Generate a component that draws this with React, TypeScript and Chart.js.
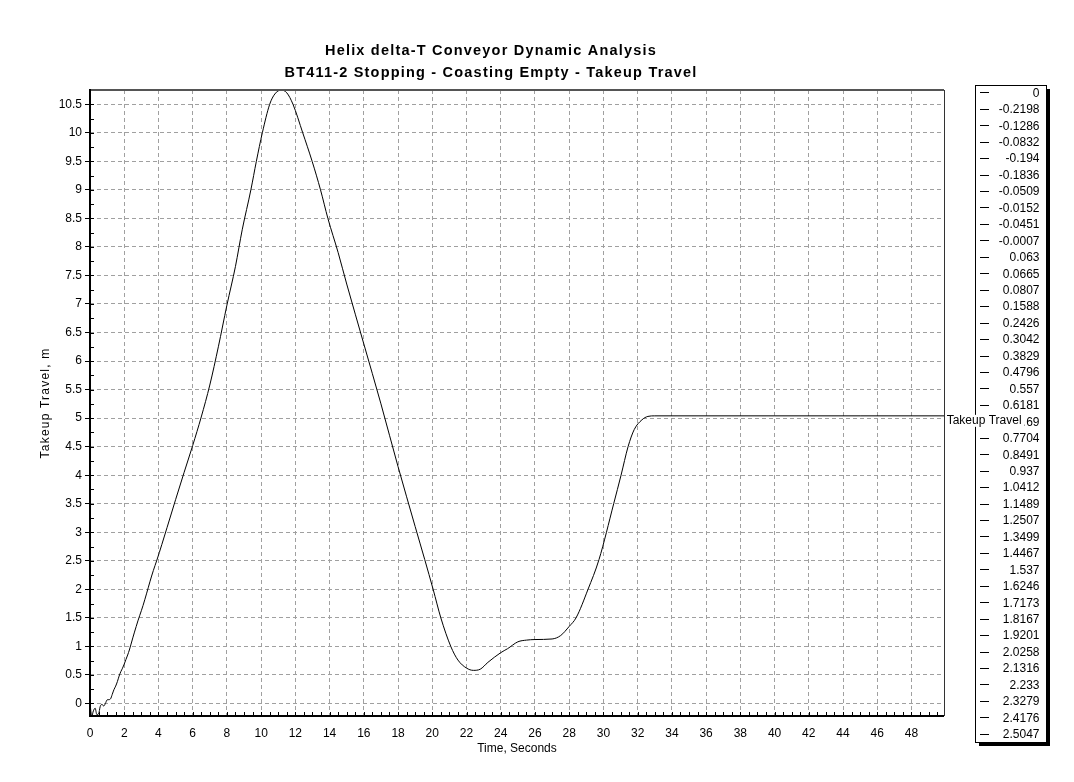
import React, { useEffect, useRef } from "react";
import { Chart, registerables } from "chart.js";

Chart.register(...registerables);

const FONT = "'Liberation Sans', Arial, Helvetica, sans-serif";

const chartTitle = [
  "Helix delta-T Conveyor Dynamic Analysis",
  "BT411-2 Stopping - Coasting Empty - Takeup Travel",
];
const seriesName = "Takeup Travel";
const xAxisTitle = "Time, Seconds";
const yAxisTitle = "Takeup Travel, m";

// time (s)
const timeSec = [
  0, 0.1, 0.2, 0.3, 0.4, 0.5, 0.6, 0.7, 0.8, 0.9,
  1.0, 1.1, 1.2, 1.3, 1.4, 1.5, 1.6, 1.7, 1.8, 1.9,
  2.0, 2.1, 2.2, 2.3, 2.4, 2.5, 2.6, 2.7, 2.8, 2.9,
  3.0, 3.1, 3.2, 3.3, 3.4, 3.5, 3.6, 3.7, 3.8, 3.9,
  4.5, 5.0, 5.5, 6.0, 6.5, 7.0, 7.5, 8.0, 8.5, 8.9,
  9.4, 9.72, 10.07, 10.5, 10.8, 11.17, 11.5, 11.86, 12.43, 12.98,
  13.47, 13.9, 14.5, 15.0, 16.0, 17.0, 18.0, 19.0, 19.56, 20.05,
  20.5, 21.08, 21.5, 22.0, 22.4, 22.8, 23.25, 24.0, 24.4, 25.0,
  25.5, 26.0, 27.0, 27.5, 28.0, 28.4, 29.1, 29.74, 30.6, 31.03,
  31.44, 31.8, 32.25, 32.6, 33.0, 36.0, 40.0, 45.0, 49.9,
];

// takeup travel (m)
const travelM = [
  0, -0.2198, -0.1286, -0.0832, -0.194, -0.1836, -0.0509, -0.0152, -0.0451, -0.0007,
  0.063, 0.0665, 0.0807, 0.1588, 0.2426, 0.3042, 0.3829, 0.4796, 0.557, 0.6181,
  0.69, 0.7704, 0.8491, 0.937, 1.0412, 1.1489, 1.2507, 1.3499, 1.4467, 1.537,
  1.6246, 1.7173, 1.8167, 1.9201, 2.0258, 2.1316, 2.233, 2.3279, 2.4176, 2.5047,
  3.08, 3.57, 4.05, 4.52, 5.02, 5.58, 6.25, 6.98, 7.66, 8.31,
  9.0, 9.5, 10.0, 10.5, 10.68, 10.75, 10.7, 10.5, 10.0, 9.5,
  9.0, 8.5, 7.9, 7.35, 6.3, 5.25, 4.15, 3.1, 2.52, 2.0,
  1.5, 1.0, 0.76, 0.62, 0.58, 0.6, 0.72, 0.89, 0.96, 1.08,
  1.11, 1.12, 1.13, 1.19, 1.35, 1.5, 2.0, 2.52, 3.5, 4.0,
  4.5, 4.8, 4.97, 5.03, 5.04, 5.04, 5.04, 5.04, 5.04,
];

const legendCount = 40;
const xMin = 0;
const xMax = 49.9;
const xStep = 2;
const xMinorStep = 0.5;
const yMin = -0.2198;
const yMax = 10.75;
const yStep = 0.5;
const yMinorStep = 0.25;

const legendValues = travelM.slice(0, legendCount).map((v) => String(Number(v.toFixed(4))));

const overlayPlugin = {
  id: "overlay",
  afterDraw(chart: any) {
    const { ctx, chartArea: a, scales } = chart;
    const xs = scales.x;
    const ys = scales.y;
    ctx.save();

    // minor ticks (inside)
    ctx.strokeStyle = "#000";
    ctx.lineWidth = 1;
    ctx.setLineDash([]);
    ctx.beginPath();
    for (let k = 0; xMin + k * xMinorStep <= xMax; k++) {
      const px = Math.round(xs.getPixelForValue(xMin + k * xMinorStep)) + 0.5;
      ctx.moveTo(px, a.bottom);
      ctx.lineTo(px, a.bottom - 4);
    }
    for (let k = 0; k * yMinorStep <= yMax; k++) {
      const py = Math.round(ys.getPixelForValue(k * yMinorStep)) + 0.5;
      ctx.moveTo(a.left, py);
      ctx.lineTo(a.left + 4, py);
    }
    ctx.stroke();

    // frame
    ctx.strokeStyle = "#555";
    ctx.lineWidth = 2;
    ctx.beginPath();
    ctx.moveTo(a.left, a.top);
    ctx.lineTo(a.right, a.top);
    ctx.stroke();
    ctx.lineWidth = 1;
    ctx.strokeStyle = "#333";
    ctx.beginPath();
    ctx.moveTo(a.right + 0.5, a.top);
    ctx.lineTo(a.right + 0.5, a.bottom);
    ctx.stroke();
    ctx.strokeStyle = "#000";
    ctx.lineWidth = 2;
    ctx.beginPath();
    ctx.moveTo(a.left, a.top - 1);
    ctx.lineTo(a.left, a.bottom + 1);
    ctx.moveTo(a.left - 1, a.bottom);
    ctx.lineTo(a.right, a.bottom);
    ctx.stroke();

    // title
    ctx.fillStyle = "#000";
    ctx.font = `bold 14.5px ${FONT}`;
    ctx.textAlign = "center";
    ctx.textBaseline = "alphabetic";
    ctx.save();
    (ctx as any).letterSpacing = "1.2px";
    ctx.fillText(chartTitle[0], 483, 47);
    ctx.fillText(chartTitle[1], 483, 69);
    ctx.restore();

    // axis titles
    ctx.font = `12px ${FONT}`;
    ctx.textAlign = "center";
    ctx.textBaseline = "middle";
    ctx.fillText(xAxisTitle, (a.left + a.right) / 2, 741);
    ctx.save();
    ctx.translate(38, (a.top + a.bottom) / 2);
    ctx.rotate(-Math.PI / 2);
    (ctx as any).letterSpacing = "1.2px";
    ctx.fillText(yAxisTitle, 0, 0);
    ctx.restore();

    // legend box
    const lx = 967, ly = 77, lw = 71, lh = 657;
    ctx.fillStyle = "#000";
    ctx.fillRect(lx + 4, ly + 4, lw, lh);
    ctx.fillStyle = "#fff";
    ctx.fillRect(lx, ly, lw, lh);
    ctx.strokeStyle = "#000";
    ctx.lineWidth = 1;
    ctx.strokeRect(lx + 0.5, ly + 0.5, lw, lh);
    ctx.font = `12px ${FONT}`;
    ctx.textAlign = "right";
    ctx.textBaseline = "middle";
    ctx.fillStyle = "#000";
    legendValues.forEach((txt, i) => {
      const cy = 85.3 + i * 16.45;
      const ry = Math.round(cy) - 0.5;
      ctx.beginPath();
      ctx.moveTo(972, ry);
      ctx.lineTo(981, ry);
      ctx.stroke();
      ctx.fillText(txt, 1031.5, cy);
    });

    // series label at line end
    const lastT = timeSec[timeSec.length - 1];
    const lastV = travelM[travelM.length - 1];
    const ex = xs.getPixelForValue(lastT);
    const ey = ys.getPixelForValue(lastV);
    ctx.font = `12px ${FONT}`;
    const w = ctx.measureText(seriesName).width;
    const tx = ex + 2.7;
    const ty = ey + 5;
    ctx.fillStyle = "#fff";
    ctx.fillRect(tx - 1, ty - 6, w + 4, 12);
    ctx.fillStyle = "#000";
    ctx.textAlign = "left";
    ctx.fillText(seriesName, tx, ty);

    ctx.restore();
  },
};

export default function App() {
  const ref = useRef<HTMLCanvasElement | null>(null);

  useEffect(() => {
    if (!ref.current) return;
    const points = timeSec.map((t, i) => ({ x: t, y: travelM[i] }));
    const tickFont = { family: FONT, size: 12 };
    const fmt = (v: any) => String(Number(Number(v).toFixed(2)));
    const chart = new Chart(ref.current, {
      type: "line",
      data: {
        datasets: [
          {
            label: seriesName,
            data: points,
            borderColor: "#000",
            borderWidth: 1,
            pointRadius: 0,
            fill: false,
            cubicInterpolationMode: "monotone",
          },
        ],
      },
      options: {
        responsive: false,
        animation: false,
        events: [],
        layout: { padding: { top: 82, right: 122, bottom: 0, left: 0 } },
        plugins: {
          legend: { display: false },
          title: { display: false },
          tooltip: { enabled: false },
        },
        scales: {
          x: {
            type: "linear",
            min: xMin,
            max: xMax,
            afterFit: (s: any) => {
              s.height = 58;
            },
            ticks: {
              stepSize: xStep,
              includeBounds: false,
              autoSkip: false,
              maxRotation: 0,
              font: tickFont,
              color: "#000",
              padding: 10,
              callback: fmt,
            },
            grid: {
              color: "#a0a0a0",
              lineWidth: 1,
              drawTicks: false,
            },
            border: { display: false, dash: [4, 3] },
          },
          y: {
            type: "linear",
            min: yMin,
            max: yMax,
            afterFit: (s: any) => {
              s.width = 82;
            },
            ticks: {
              stepSize: yStep,
              includeBounds: false,
              autoSkip: false,
              font: tickFont,
              color: "#000",
              padding: 3,
              callback: fmt,
            },
            grid: {
              color: "#a0a0a0",
              lineWidth: 1,
              drawTicks: true,
              tickLength: 5,
              tickColor: "#000",
            },
            border: { display: false, dash: [4, 3] },
          },
        },
      },
      plugins: [overlayPlugin],
    });
    return () => chart.destroy();
  }, []);

  return (
    <div style={{ width: 1058, height: 766 }}>
      <canvas ref={ref} width={1058} height={766} style={{ display: "block" }} />
    </div>
  );
}
